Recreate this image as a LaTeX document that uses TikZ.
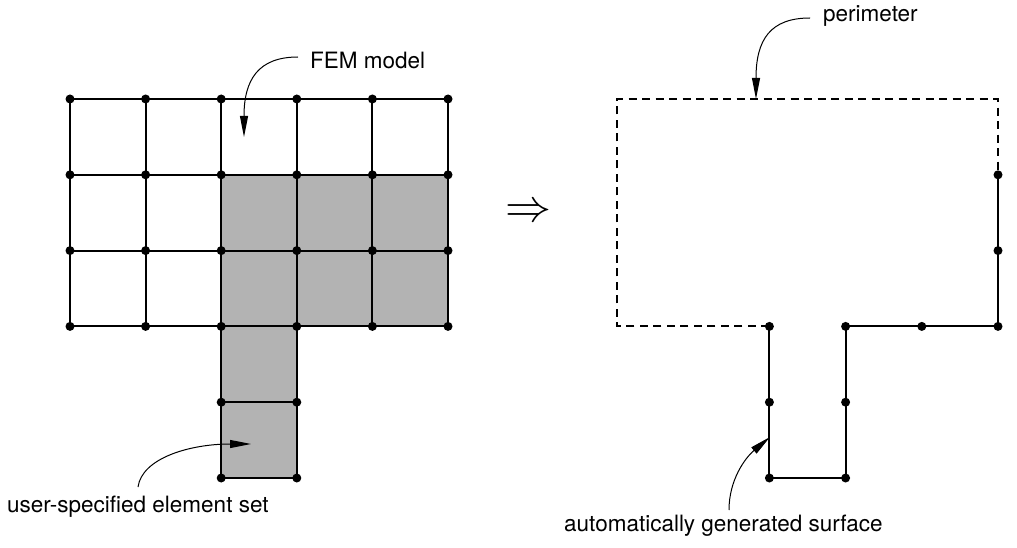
\documentclass[tikz,border=0pt]{standalone}
\usepackage{fontspec}
\setmainfont{TeX Gyre Heros}
\usetikzlibrary{arrows.meta}
\definecolor{cellgray}{RGB}{179,179,179}
\begin{document}
\begin{tikzpicture}[x=1pt,y=-1pt,
  gridline/.style={line width=2pt},
  perim/.style={line width=2pt},
  dashedperim/.style={line width=2pt,dash pattern=on 8pt off 5.5pt},
  dot/.style={circle,fill=black,inner sep=0pt,minimum size=9pt},
  lbl/.style={font=\fontsize{22.5}{26}\selectfont,inner sep=0pt,anchor=west},
  callout/.style={line width=1pt,-{Triangle[length=21pt,width=8pt]}}]
\useasboundingbox (0,0) rectangle (1017,548);
% left grid coordinates
\foreach \i/\x in {0/70,1/145.6,2/221.2,3/296.8,4/372.4,5/448}{
  \foreach \j/\y in {0/99,1/174.8,2/250.6,3/326.4,4/402.2,5/478}{
    \coordinate (L\i\j) at (\x,\y);
  }
}
% right coordinates
\foreach \i/\x in {0/617,2/769.4,3/845.6,4/921.8,5/998}{
  \foreach \j/\y in {0/99,1/174.8,2/250.6,3/326.4,4/402.2,5/478}{
    \coordinate (R\i\j) at (\x,\y);
  }
}
% shaded element set
\fill[cellgray] (L21) rectangle (L53);
\fill[cellgray] (L23) rectangle (L35);
% grid lines
\foreach \j in {0,1,2,3}{\draw[gridline] (L0\j) -- (L5\j);}
\foreach \i in {0,1,2,3,4,5}{\draw[gridline] (L\i0) -- (L\i3);}
\draw[gridline] (L23) -- (L25);
\draw[gridline] (L33) -- (L35);
\draw[gridline] (L24) -- (L34);
\draw[gridline] (L25) -- (L35);
% left dots
\foreach \i in {0,1,2,3,4,5}{\foreach \j in {0,1,2,3}{\node[dot] (dL\i\j) at (L\i\j) {};}}
\foreach \i in {2,3}{\foreach \j in {4,5}{\node[dot] (dL\i\j) at (L\i\j) {};}}
% arrow symbol
\node[scale=4.6,inner sep=0pt] (implies) at (528,213) {$\Rightarrow$};
% right perimeter
\draw[dashedperim] (R23) -- (R03) -- (R00) -- (R50) -- (R51);
\draw[perim] (R51) -- (R53) -- (R33) -- (R35) -- (R25) -- (R23);
\foreach \c in {R51,R52,R53,R43,R33,R34,R35,R25,R24,R23}{\node[dot] (d\c) at (\c) {};}
% labels
\node[lbl] (fem) at (310,60) {FEM model};
\node[lbl] (per) at (823,16) {perimeter};
\node[lbl] (use) at (7,507) {user-specified element set};
\node[lbl] (aut) at (564,526) {automatically generated surface};
% callout arrows
\coordinate (femtip) at (244,137);
\coordinate (pertip) at (756,99);
\coordinate (usetip) at (251,444);
\coordinate (auttip) at (770,437);
\coordinate (femstart) at (298,57);
\coordinate (perstart) at (810,18);
\coordinate (usestart) at (138,487);
\coordinate (autstart) at (729,510);
\draw[callout] (femstart) .. controls (258,57) and (244,80) .. (femtip);
\draw[callout] (perstart) .. controls (770,18) and (756,40) .. (pertip);
\draw[callout] (usestart) .. controls (142,458) and (190,444) .. (usetip);
\draw[callout] (autstart) .. controls (729,480) and (745,458) .. (auttip);
\end{tikzpicture}
\end{document}
